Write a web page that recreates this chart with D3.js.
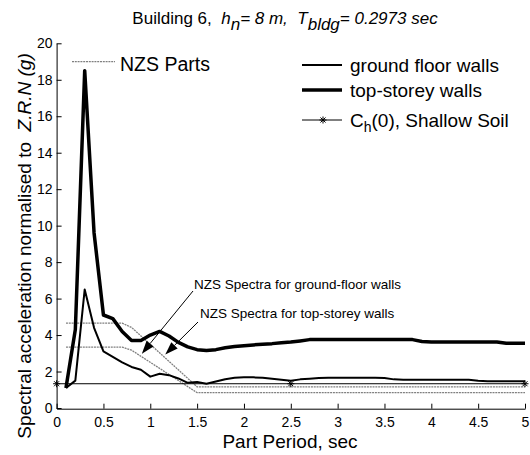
<!DOCTYPE html>
<html>
<head>
<meta charset="utf-8">
<script src="https://cdn.jsdelivr.net/npm/d3@7"></script>
<style>
  html, body { margin: 0; padding: 0; background: #fff; }
  svg { display: block; font-family: Arial, "Liberation Sans", sans-serif; }
  text { white-space: pre; }
</style>
</head>
<body>
<svg id="chart" width="530" height="455"></svg>
<script>
// Part periods (sec) at which the floor spectra were computed
const periods = [0.1, 0.2, 0.3, 0.4, 0.5, 0.6, 0.7, 0.8, 0.9, 1.0,
                 1.1, 1.2, 1.3, 1.4, 1.5, 1.6, 1.7, 1.8, 1.9, 2.0,
                 2.1, 2.2, 2.3, 2.4, 2.5, 2.6, 2.7, 2.8, 2.9, 3.0,
                 3.1, 3.2, 3.3, 3.4, 3.5, 3.6, 3.7, 3.8, 3.9, 4.0,
                 4.1, 4.2, 4.3, 4.4, 4.5, 4.6, 4.7, 4.8, 4.9, 5.0];

// Spectral acceleration normalised to Z.R.N (g)
const groundFloorWalls = [1.1, 1.5, 6.5, 4.4, 3.1, 2.8, 2.5, 2.25, 2.1, 1.72,
                          1.88, 1.8, 1.62, 1.38, 1.42, 1.33, 1.45, 1.58, 1.66, 1.68,
                          1.68, 1.66, 1.6, 1.55, 1.5, 1.57, 1.6, 1.64, 1.66, 1.66,
                          1.66, 1.66, 1.66, 1.66, 1.64, 1.57, 1.55, 1.55, 1.55, 1.55,
                          1.55, 1.55, 1.55, 1.55, 1.49, 1.47, 1.47, 1.47, 1.47, 1.47];

const topStoreyWalls = [1.1, 4.3, 18.5, 9.6, 5.1, 4.9, 4.2, 3.7, 3.7, 4.0,
                        4.2, 3.95, 3.6, 3.35, 3.2, 3.15, 3.2, 3.3, 3.37, 3.42,
                        3.46, 3.5, 3.53, 3.58, 3.62, 3.68, 3.75, 3.75, 3.75, 3.75,
                        3.75, 3.75, 3.75, 3.75, 3.75, 3.75, 3.75, 3.75, 3.65, 3.62,
                        3.62, 3.62, 3.62, 3.62, 3.62, 3.62, 3.62, 3.55, 3.55, 3.55];

// NZS parts spectra (design values)
const nzsPeriods = [0.1, 0.7, 0.8, 1.5, 5.0];
const nzsGroundFloor = [3.34, 3.34, 3.17, 0.84, 0.84];
const nzsTopStorey = [4.65, 4.65, 4.42, 1.16, 1.16];

// Ch(0), shallow soil
const chPeriods = [0, 5];
const chValues = [1.33, 1.33];
const chMarkerPeriods = [0, 2.5, 5];

// Axis ticks
const xTicks = [0, 0.5, 1, 1.5, 2, 2.5, 3, 3.5, 4, 4.5, 5];
const yTicks = [0, 2, 4, 6, 8, 10, 12, 14, 16, 18, 20];

const svg = d3.select("#chart");
const x = d3.scaleLinear().domain([0, 5]).range([56.6, 525]);
const y = d3.scaleLinear().domain([0, 20]).range([408, 43.3]);

const NZS_GRAY = "#808080";

// Axes: left and bottom only, ticks pointing inward
const xAxis = d3.axisBottom(x).tickValues(xTicks).tickFormat(d3.format("~g"))
  .tickSizeInner(-5).tickSizeOuter(0).tickPadding(8);
const yAxis = d3.axisLeft(y).tickValues(yTicks).tickFormat(d3.format("d"))
  .tickSizeInner(-5).tickSizeOuter(0).tickPadding(4);

const gx = svg.append("g").attr("transform", `translate(0,${y(0) + 0.7})`).call(xAxis);
const gy = svg.append("g").attr("transform", `translate(${x(0)},0)`).call(yAxis);
[gx, gy].forEach(g => {
  g.selectAll("path, line").attr("stroke", "#000").attr("stroke-width", 1);
  g.selectAll("text").attr("font-size", 14).attr("fill", "#000")
    .attr("font-family", "Arial, 'Liberation Sans', sans-serif");
});

const line = (xs, ys) => d3.line().x((d, i) => x(xs[i])).y(d => y(d))(ys);

// NZS spectra
svg.append("path").attr("d", line(nzsPeriods, nzsGroundFloor))
  .attr("fill", "none").attr("stroke", NZS_GRAY).attr("stroke-width", 1.3)
  .attr("stroke-dasharray", "2,0.8");
svg.append("path").attr("d", line(nzsPeriods, nzsTopStorey))
  .attr("fill", "none").attr("stroke", NZS_GRAY).attr("stroke-width", 1.3)
  .attr("stroke-dasharray", "2,0.8");

// Ch(0) line with star markers
svg.append("path").attr("d", line(chPeriods, chValues))
  .attr("fill", "none").attr("stroke", "#000").attr("stroke-width", 1);

function star(g, cx, cy, r) {
  const s = g.append("g").attr("stroke", "#000").attr("stroke-width", 1);
  s.append("line").attr("x1", cx - r).attr("x2", cx + r).attr("y1", cy).attr("y2", cy);
  s.append("line").attr("x1", cx).attr("x2", cx).attr("y1", cy - r).attr("y2", cy + r);
  const k = r * 0.72;
  s.append("line").attr("x1", cx - k).attr("x2", cx + k).attr("y1", cy - k).attr("y2", cy + k);
  s.append("line").attr("x1", cx - k).attr("x2", cx + k).attr("y1", cy + k).attr("y2", cy - k);
}
chMarkerPeriods.forEach(p => star(svg, x(p), y(chValues[0]), 3.5));

// Floor spectra
svg.append("path").attr("d", line(periods, groundFloorWalls))
  .attr("fill", "none").attr("stroke", "#000").attr("stroke-width", 2)
  .attr("stroke-linejoin", "round");
svg.append("path").attr("d", line(periods, topStoreyWalls))
  .attr("fill", "none").attr("stroke", "#000").attr("stroke-width", 3.5)
  .attr("stroke-linejoin", "round");

// Annotations with arrows
function arrow(x1, y1, x2, y2) {
  const ang = Math.atan2(y2 - y1, x2 - x1);
  const L = 13, W = 4.5;
  const bx = x2 - L * Math.cos(ang), by = y2 - L * Math.sin(ang);
  svg.append("line").attr("x1", x1).attr("y1", y1).attr("x2", bx).attr("y2", by)
    .attr("stroke", "#000").attr("stroke-width", 1);
  const px = -Math.sin(ang) * W, py = Math.cos(ang) * W;
  svg.append("path")
    .attr("d", `M${x2},${y2}L${bx + px},${by + py}L${bx - px},${by - py}Z`)
    .attr("fill", "#000");
}
arrow(193, 291, x(0.91), y(2.98));
arrow(198, 322, x(1.16), y(2.93));

svg.append("text").attr("x", 194).attr("y", 289).attr("font-size", 13.5)
  .text("NZS Spectra for ground-floor walls");
svg.append("text").attr("x", 200).attr("y", 318).attr("font-size", 13.5)
  .text("NZS Spectra for top-storey walls");

// "NZS Parts" key
svg.append("line").attr("x1", 72).attr("x2", 115).attr("y1", 61.7).attr("y2", 61.7)
  .attr("stroke", NZS_GRAY).attr("stroke-width", 1.3).attr("stroke-dasharray", "2,0.8");
svg.append("text").attr("x", 120).attr("y", 70.5).attr("font-size", 19.5).text("NZS Parts");

// Legend
const lg = svg.append("g");
const legendRows = [
  { y: 65, w: 2, label: "ground floor walls" },
  { y: 90, w: 3.5, label: "top-storey walls" },
  { y: 120, w: 1, label: null }
];
legendRows.forEach(r => {
  lg.append("line").attr("x1", 302).attr("x2", 342).attr("y1", r.y).attr("y2", r.y)
    .attr("stroke", "#000").attr("stroke-width", r.w);
  if (r.label) {
    lg.append("text").attr("x", 350).attr("y", r.y + 7).attr("font-size", 19).text(r.label);
  }
});
star(lg, 323, 120, 3.5);
const chText = lg.append("text").attr("x", 350).attr("y", 127).attr("font-size", 19);
chText.append("tspan").text("C");
chText.append("tspan").attr("font-size", 14).attr("dy", 5).text("h");
chText.append("tspan").attr("dy", -5).text("(0), Shallow Soil");

// Title (subscripts drawn at full size, lowered)
const title = svg.append("text").attr("x", 285).attr("y", 24).attr("font-size", 17)
  .attr("text-anchor", "middle");
title.append("tspan").text("Building 6,  ");
title.append("tspan").attr("font-style", "italic").text("h");
title.append("tspan").attr("font-style", "italic").attr("dy", 6).text("n");
title.append("tspan").attr("font-style", "italic").attr("dy", -6).text("= 8 m,  T");
title.append("tspan").attr("font-style", "italic").attr("dy", 6).text("bldg");
title.append("tspan").attr("font-style", "italic").attr("dy", -6).text("= 0.2973 sec");

// Axis labels
svg.append("text").attr("x", 290).attr("y", 448).attr("font-size", 19)
  .attr("text-anchor", "middle").text("Part Period, sec");

const yl = svg.append("text").attr("transform", "translate(31,246) rotate(-90)")
  .attr("font-size", 19).attr("text-anchor", "middle");
yl.append("tspan").text("Spectral acceleration normalised to  ");
yl.append("tspan").attr("font-style", "italic").text("Z.R.N (g)");
</script>
</body>
</html>
